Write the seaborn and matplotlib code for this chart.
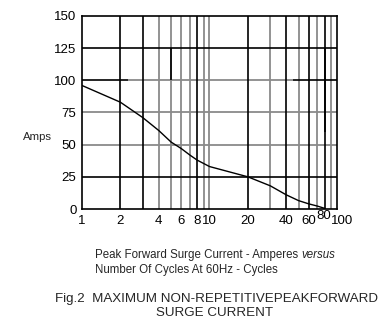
import numpy as np
import pandas as pd
import matplotlib
matplotlib.use("Agg")
import matplotlib.pyplot as plt
import matplotlib.transforms as mtransforms
import seaborn as sns

# Surge rating curve: peak forward surge current vs number of 60 Hz cycles
cycles = [1, 2, 3, 4, 5, 6, 7, 8, 10, 20, 30, 40, 50, 60, 70, 80]
amps = [96, 83, 71, 61, 52, 47, 42, 38, 33, 25, 18, 11, 6.5, 4, 2.3, 0.5]

x_tick_values = [1, 2, 4, 6, 8, 10, 20, 40, 60, 80, 100]
x_tick_labels = ["1", "2", "4", "6", "8", "10", "20", "40", "60", "80", "100"]
y_tick_values = [0, 25, 50, 75, 100, 125, 150]

# grid rules, dark and light
dark_v = [2, 3, 8, 20, 40, 60, 80]
light_v = [4, 5, 6, 7, 9, 10, 30, 50, 70, 90]
dark_h = [25, 125]
light_h = [50, 75]

sns.set_style("white")
plt.rcParams["font.family"] = ["Liberation Sans", "DejaVu Sans"]

W, H = 382, 328
fig = plt.figure(figsize=(W / 100, H / 100), dpi=100)
ax = fig.add_axes([82 / W, 1 - 209 / H, 255 / W, 193 / H])

df = pd.DataFrame({"cycles": cycles, "amps": amps})

ax.set_xscale("log")
ax.set_xlim(1, 100)
ax.set_ylim(0, 150)

grey = "#8a8a8a"
ax.vlines(light_v, 0, 150, colors=grey, lw=1.3, zorder=1)
ax.vlines(dark_v, 0, 150, colors="black", lw=1.2, zorder=2)
ax.hlines(light_h, 1, 100, colors=grey, lw=1.3, zorder=1)
ax.hlines(dark_h, 1, 100, colors="black", lw=1.2, zorder=2)
# the 100 A rule is drawn in three pieces
ax.hlines(100, 1, 2.3, colors="black", lw=1.2, zorder=2)
ax.hlines(100, 2.3, 45, colors=grey, lw=1.3, zorder=1)
ax.hlines(100, 45, 100, colors="black", lw=1.2, zorder=2)
# short dark strokes over the lighter rules
ax.vlines([5], 100, 125, colors="black", lw=1.2, zorder=2)
ax.vlines([80], 60, 125, colors="black", lw=1.2, zorder=2)

sns.lineplot(data=df, x="cycles", y="amps", color="black", lw=1.0, ax=ax, zorder=3)

ax.set_xticks(x_tick_values)
ax.set_xticklabels(x_tick_labels)
ax.xaxis.set_minor_locator(matplotlib.ticker.NullLocator())
ax.set_yticks(y_tick_values)
ax.tick_params(axis="both", length=0, labelsize=9.5, colors="black")
ax.tick_params(axis="x", pad=4)
ax.tick_params(axis="y", pad=4)
ax.set_xlabel("")
ax.set_ylabel("")

for lab in ax.get_xticklabels():
    if lab.get_text() == "80":
        lab.set_transform(lab.get_transform() + mtransforms.ScaledTranslation(-1 / 72, 3 / 72, fig.dpi_scale_trans))
    if lab.get_text() == "100":
        lab.set_transform(lab.get_transform() + mtransforms.ScaledTranslation(4 / 72, 0, fig.dpi_scale_trans))

for s in ax.spines.values():
    s.set_visible(True)
    s.set_color("black")
    s.set_linewidth(1.2)

fig.text(23 / W, 1 - 137 / H, "Amps", fontsize=8.2, va="center", ha="left")

first = "Peak Forward Surge Current - Amperes "
t1 = fig.text(95 / W, 1 - 255 / H, first, fontsize=8.3, va="center", ha="left")
fig.canvas.draw()
bb = t1.get_window_extent()
fig.text(bb.x1 / W, 1 - 255 / H, "versus", fontsize=8.3, va="center", ha="left", style="italic")
fig.text(95 / W, 1 - 270 / H, "Number Of Cycles At 60Hz - Cycles", fontsize=8.3, va="center", ha="left")

fig.text(55 / W, 1 - 299 / H, "Fig.2  MAXIMUM NON-REPETITIVEPEAKFORWARD", fontsize=9.6, va="center", ha="left")
fig.text(215 / W, 1 - 313 / H, "SURGE CURRENT", fontsize=9.6, va="center", ha="center")

fig.savefig("out.png", dpi=100, facecolor="white")
